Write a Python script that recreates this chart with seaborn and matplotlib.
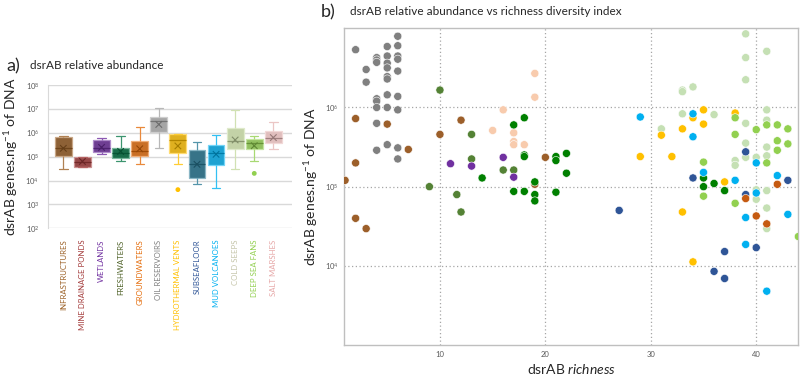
import numpy as np
import pandas as pd
import seaborn as sns
import matplotlib.pyplot as plt
from matplotlib.colors import to_rgb

sns.set_style("white")
plt.rcParams["font.family"] = ["Lato", "DejaVu Sans"]
plt.rcParams["mathtext.fontset"] = "custom"
plt.rcParams["mathtext.rm"] = "Lato"
plt.rcParams["mathtext.it"] = "Lato:italic"

# ---- panel a: box stats per environment (log10 of genes per ng DNA)
envs = ["Infrastructures", "Mine Drainage Ponds", "Wetlands", "Freshwaters",
        "Groundwaters", "Oil reservoirs", "Hydrothermal Vents", "Subseafloor",
        "Mud Volcanoes", "Cold Seeps", "Deep Sea Fans", "Salt Marshes"]
box_low  = [4.50, 4.55, 5.11, 4.82, 4.69, 5.35, 4.69, 3.84, 3.70, 4.50, 4.80, 5.31]
box_q1   = [5.03, 4.55, 5.18, 4.93, 5.01, 6.05, 5.14, 4.09, 4.64, 5.31, 5.31, 5.56]
box_med  = [5.38, 4.76, 5.36, 5.17, 5.22, 6.49, 5.70, 4.71, 5.14, 5.66, 5.59, 5.77]
box_q3   = [5.81, 4.97, 5.70, 5.38, 5.67, 6.66, 5.93, 5.28, 5.47, 6.19, 5.74, 6.09]
box_high = [5.87, 5.00, 5.80, 5.87, 6.23, 7.02, 5.96, 5.61, 5.92, 6.94, 5.88, 6.44]
box_mean = [5.35, 4.80, 5.39, 5.22, 5.33, 6.35, 5.45, 4.68, 5.10, 5.70, 5.46, 5.80]
outlier_env = ["Hydrothermal Vents", "Deep Sea Fans"]
outlier_val = [3.62, 4.30]

box_fill = ["#9c6127", "#a33a3a", "#7030a0", "#0b7a4b", "#e46c0a", "#a6a6a6",
            "#ffc000", "#2a7a95", "#00b0f0", "#c5d9a0", "#92d050", "#e6b8b7"]
label_col = ["#9c6127", "#a33a3a", "#7030a0", "#4f6228", "#e46c0a", "#7f7f7f",
             "#ffc000", "#2f5597", "#00b0f0", "#c4c4a8", "#92d050", "#e6a6a6"]

# ---- panel b: richness vs abundance (log10), by environment
sc_groups = {
    "oil": ([2, 3, 3, 4, 4, 4, 4, 4, 4, 4, 4, 5, 5, 5, 5, 5, 5, 5, 5, 5,
             6, 6, 6, 6, 6, 6, 6, 6, 6],
            [6.73, 6.48, 6.32, 6.63, 6.60, 6.57, 6.11, 6.08, 6.00, 5.80, 5.46,
             6.77, 6.65, 6.56, 6.50, 6.39, 6.36, 6.16, 6.00, 5.53,
             6.90, 6.78, 6.65, 6.61, 6.46, 6.14, 5.97, 5.49, 5.35]),
    "infra": ([1, 2, 2, 2, 3, 5, 7, 10, 12, 20, 19],
              [5.08, 5.86, 5.30, 4.60, 4.47, 5.79, 5.47, 5.66, 5.84, 5.37, 5.03]),
    "fresh": ([10, 13, 13, 9, 11.6, 12, 16, 17],
              [6.22, 5.66, 5.35, 5.00, 4.90, 4.68, 5.21, 5.21]),
    "wet": ([11, 13, 16, 17], [5.29, 5.26, 5.37, 5.12]),
    "salt": ([19, 19, 16, 15, 17, 17, 17, 18],
             [6.43, 6.13, 5.97, 5.71, 5.68, 5.57, 5.53, 5.53]),
    "green": ([17, 18, 14, 18, 18, 17, 18, 19, 19, 19, 21, 21, 21, 22, 22,
               35, 35, 36, 37],
              [5.78, 5.87, 5.11, 5.40, 5.38, 4.94, 4.94, 5.06, 4.90, 4.82,
               5.38, 5.33, 4.93, 5.42, 5.17, 5.11, 5.00, 5.04, 4.95]),
    "cold": ([39, 39, 39, 41, 33, 33, 34, 33, 36, 31, 39, 41, 41, 39, 39, 40,
              38, 38, 41, 41, 40, 40, 41, 41, 41],
             [6.93, 6.63, 6.35, 6.71, 6.22, 6.20, 6.26, 5.92, 5.91, 5.73, 5.80,
              5.97, 5.84, 5.55, 5.37, 5.37, 5.33, 5.27, 5.50, 5.39, 4.96, 4.84,
              4.95, 4.73, 4.47]),
    "hydro": ([29, 32, 33, 31, 34, 35, 35, 38, 37, 33, 34],
              [5.38, 5.38, 5.73, 5.65, 5.87, 5.97, 5.79, 5.93, 5.06, 4.68, 4.05]),
    "mud": ([29, 34, 34, 35, 38, 40, 40, 42, 39, 43, 39, 41],
            [5.88, 5.92, 5.63, 5.18, 5.08, 5.30, 4.92, 5.14, 4.61, 4.65, 4.27, 3.68]),
    "sub": ([27, 39, 34, 43, 39, 37, 36, 37, 40],
            [4.70, 5.44, 5.11, 5.08, 4.90, 4.18, 3.93, 3.84, 4.23]),
    "ground": ([42, 39, 40, 41], [5.03, 4.85, 4.63, 4.53]),
    "deep": ([38, 38, 40, 41, 42, 42, 42, 43, 43, 35, 35, 41, 38, 44],
             [5.87, 5.66, 5.72, 5.78, 5.78, 5.58, 5.46, 5.73, 5.54, 5.31, 4.88,
              5.30, 4.79, 4.37]),
}
sc_colors = {"oil": "#808080", "infra": "#9c5f2a", "fresh": "#548235",
             "wet": "#7030a0", "salt": "#f8cbad", "green": "#008000",
             "cold": "#c5e0b4", "hydro": "#ffc000", "mud": "#00b0f0",
             "sub": "#2f5597", "ground": "#c55a11", "deep": "#92d050"}


def mix(c, other, t):
    c, o = np.array(to_rgb(c)), np.array(to_rgb(other))
    return tuple(c * (1 - t) + o * t)


fig = plt.figure(figsize=(8, 3.77), dpi=100)

# ================= panel a
ax1 = fig.add_axes([0.0596, 0.3944, 0.305, 0.380])
rows = []
for e, lo, q1, md, q3, hi in zip(envs, box_low, box_q1, box_med, box_q3, box_high):
    for v in (lo, q1, md, q3, hi):
        rows.append((e, 10 ** v))
box_df = pd.DataFrame(rows, columns=["env", "abund"])

sns.boxplot(data=box_df, x="env", y="abund", hue="env", order=envs,
            hue_order=envs, palette=box_fill, whis=(0, 100), width=0.88,
            log_scale=True, legend=False, showfliers=False, ax=ax1,
            linewidth=0.9)
for cont, col in zip(ax1.containers, box_fill):
    for b in cont.boxes:
        b.set_edgecolor(mix(col, "white", 0.45))
        b.set_linewidth(0.9)
    for ln in list(cont.whiskers) + list(cont.caps):
        ln.set_color(mix(col, "white", 0.2))
    for ln in cont.medians:
        ln.set_color(mix(col, "black", 0.3))

pos = np.arange(len(envs))
sns.scatterplot(x=pos, y=10 ** np.array(box_mean), marker="x", s=22,
                hue=pos, palette=[mix(c, "black", 0.35) for c in box_fill],
                legend=False, linewidth=0.8, ax=ax1, zorder=5)
out_pos = [envs.index(e) for e in outlier_env]
sns.scatterplot(x=out_pos, y=10 ** np.array(outlier_val), hue=out_pos,
                palette=[box_fill[i] for i in out_pos], s=12, linewidth=0,
                legend=False, ax=ax1, zorder=5)

ax1.set_ylim(1e2, 1e8)
ax1.set_xlim(-0.82, 11.96)
ax1.set_yticks([10.0 ** k for k in range(2, 9)])
ax1.minorticks_off()
ax1.yaxis.grid(True, color="#d9d9d9", linewidth=1)
ax1.set_axisbelow(True)
for s in ["top", "right", "bottom"]:
    ax1.spines[s].set_visible(False)
ax1.spines["left"].set_color("#d9d9d9")
ax1.tick_params(axis="y", labelsize=5.5, labelcolor="#595959", length=0, pad=6)
ax1.tick_params(axis="x", length=0, pad=8)
ax1.set_xticks(pos)
ax1.set_xticklabels([e.upper() for e in envs], rotation=90, fontsize=5.6)
for t, c in zip(ax1.get_xticklabels(), label_col):
    t.set_color(c)
ax1.set_xlabel("")
ax1.set_ylabel("dsrAB genes.ng$^{-1}$ of DNA", fontsize=10, color="#262626",
               labelpad=4)
fig.text(0.008, 0.825, "a)", fontsize=13, color="#262626", va="center")
fig.text(0.037, 0.827, "dsrAB relative abundance", fontsize=8.5,
         color="#262626", va="center")

# ================= panel b
ax2 = fig.add_axes([0.43, 0.0849, 0.568, 0.840])
srows = []
for g, (xs, ys) in sc_groups.items():
    for x, y in zip(xs, ys):
        srows.append((g, x, 10 ** y))
sc_df = pd.DataFrame(srows, columns=["group", "richness", "abund"])
sns.scatterplot(data=sc_df, x="richness", y="abund", hue="group",
                palette=sc_colors, s=34, edgecolor="white", linewidth=0.4,
                legend=False, ax=ax2, zorder=3)
ax2.set_yscale("log")
ax2.set_xlim(0.9, 44)
ax2.set_ylim(1e3, 1e7)
ax2.set_xticks([10, 20, 30, 40])
ax2.set_yticks([1e4, 1e5, 1e6])
ax2.minorticks_off()
ax2.grid(True, color="#a6a6a6", linestyle=(0, (1, 2)), linewidth=0.9)
ax2.set_axisbelow(True)
for s in ax2.spines.values():
    s.set_color("#bfbfbf")
    s.set_linewidth(1)
ax2.tick_params(labelsize=5.5, labelcolor="#595959", length=0, pad=4)
ax2.set_xlabel("dsrAB $\\mathit{richness}$", fontsize=10, color="#262626",
               labelpad=3)
ax2.set_ylabel("dsrAB genes.ng$^{-1}$ of DNA", fontsize=10, color="#262626",
               labelpad=3)
fig.text(0.401, 0.967, "b)", fontsize=13, color="#262626", va="center")
fig.text(0.437, 0.969, "dsrAB relative abundance vs richness diversity index",
         fontsize=8.5, color="#262626", va="center")

fig.savefig("out.png", dpi=100)
